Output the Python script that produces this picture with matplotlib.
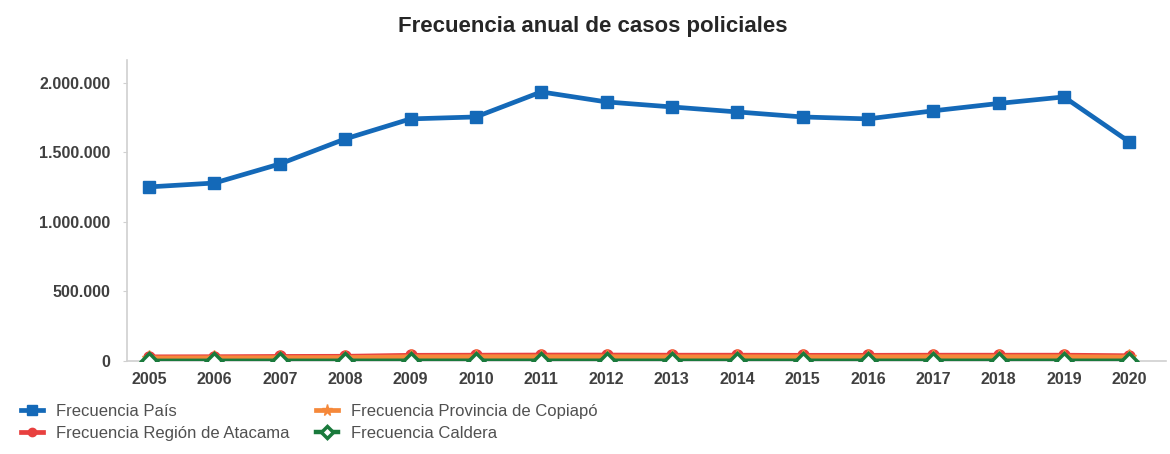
import matplotlib.pyplot as plt
from matplotlib.ticker import FuncFormatter

plt.rcParams['font.family'] = ['Liberation Sans', 'DejaVu Sans']

years = [2005, 2006, 2007, 2008, 2009, 2010, 2011, 2012,
         2013, 2014, 2015, 2016, 2017, 2018, 2019, 2020]
pais = [1252000, 1280000, 1417000, 1597000, 1741000, 1755000, 1935000, 1863000,
        1827000, 1791000, 1755000, 1741000, 1799000, 1852000, 1899000, 1576000]
region_atacama = [30000, 31000, 33000, 34000, 41000, 42000, 43000, 43000,
                  42000, 42000, 41000, 41000, 42000, 42000, 42000, 38000]
provincia_copiapo = [22000, 23000, 24000, 25000, 30000, 31000, 31000, 31000,
                     30000, 30000, 30000, 30000, 31000, 31000, 31000, 28000]
caldera = [1500, 1600, 1700, 1800, 2100, 2200, 2200, 2200,
           2100, 2100, 2000, 2000, 2100, 2100, 2100, 1900]

fig = plt.figure(figsize=(11.7, 4.54), dpi=100)
ax = fig.add_axes([0.1085, 0.2048, 0.8885, 0.6632])

ax.plot(years, pais, color='#1469B8', lw=3.4, marker='s', ms=9,
        label='Frecuencia País', zorder=5)
ax.plot(years, region_atacama, color='#E8403F', lw=3.4, marker='o', ms=8,
        label='Frecuencia Región de Atacama', zorder=3)
ax.plot(years, provincia_copiapo, color='#F5883A', lw=3.4, marker='*', ms=11,
        label='Frecuencia Provincia de Copiapó', zorder=3)
ax.plot(years, caldera, color='#1A7A3C', lw=3.2, marker='D', ms=8,
        mfc='white', mew=2.5, label='Frecuencia Caldera', zorder=4)

ax.set_xlim(2004.66, 2020.57)
ax.set_ylim(0, 2165000)
ax.set_yticks([0, 500000, 1000000, 1500000, 2000000])
ax.yaxis.set_major_formatter(FuncFormatter(lambda v, p: f'{int(v):,}'.replace(',', '.')))
ax.set_xticks(years)

for s in ['top', 'right']:
    ax.spines[s].set_visible(False)
for s in ['left', 'bottom']:
    ax.spines[s].set_color('#D0D0D0')
    ax.spines[s].set_linewidth(1.2)
ax.tick_params(axis='x', length=0, pad=8, labelsize=11.5, labelcolor='#404040')
ax.tick_params(axis='y', length=3, color='#D0D0D0', pad=9, labelsize=11.5, labelcolor='#404040')
for lbl in ax.get_xticklabels() + ax.get_yticklabels():
    lbl.set_fontweight('bold')

fig.suptitle('Frecuencia anual de casos policiales', x=0.507, y=0.965,
             fontsize=16, fontweight='bold', color='#262626')

fig.legend(loc='upper left', bbox_to_anchor=(0.011, 0.128), ncol=2, frameon=False,
           fontsize=12, labelcolor='#505050', handlelength=1.3, handletextpad=0.8,
           columnspacing=1.6, labelspacing=0.4, borderpad=0, markerscale=0.75)

fig.savefig('out.png', dpi=100)
